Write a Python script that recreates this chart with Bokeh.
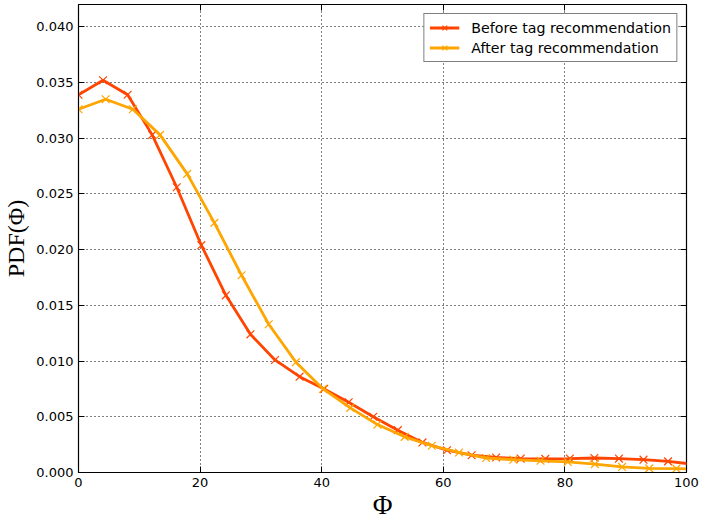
from bokeh.plotting import figure
from bokeh.models import Range1d, LinearAxis, FixedTicker, PrintfTickFormatter, Legend, LegendItem
from bokeh.embed import file_html
from bokeh.resources import INLINE

# Data
before_x = [0, 4.04, 8.08, 12.12, 16.16, 20.2, 24.24, 28.28, 32.32, 36.36, 40.4, 44.44,
            48.48, 52.52, 56.57, 60.61, 64.65, 68.69, 72.73, 76.77, 80.81, 84.85, 88.89,
            92.93, 96.97, 101.01]
before_y = [0.0339, 0.0352, 0.0339, 0.0303, 0.0256, 0.0204, 0.0159, 0.0124, 0.0101, 0.0086,
            0.0075, 0.0063, 0.0050, 0.0038, 0.0027, 0.0020, 0.00155, 0.00135, 0.00125, 0.00122,
            0.00125, 0.0013, 0.00125, 0.00115, 0.0010, 0.00075]
after_x = [0, 4.47, 8.94, 13.41, 17.88, 22.35, 26.82, 31.29, 35.76, 40.23, 44.7, 49.17,
           53.64, 58.11, 62.58, 67.05, 71.52, 75.99, 80.46, 84.93, 89.4, 93.87, 98.34, 102.81]
after_y = [0.0326, 0.0335, 0.0326, 0.0303, 0.0268, 0.0224, 0.0177, 0.0133, 0.0099, 0.0075,
           0.0058, 0.0043, 0.0032, 0.0024, 0.0018, 0.0013, 0.00115, 0.00105, 0.00095, 0.00075,
           0.0005, 0.00037, 0.00035, 0.0003]
x_ticks = [0, 20, 40, 60, 80, 100]
y_ticks = [0.000, 0.005, 0.010, 0.015, 0.020, 0.025, 0.030, 0.035, 0.040]
series_labels = ["Before tag recommendation", "After tag recommendation"]
colors = ["#FF4500", "#FFA500"]

p = figure(width=699, height=522, output_backend="svg", toolbar_location=None,
           x_range=Range1d(0, 100), y_range=Range1d(0, 0.042),
           min_border_left=73, min_border_right=13, min_border_top=4, min_border_bottom=36)
p.outline_line_color = "black"
p.outline_line_width = 1.2
p.background_fill_color = "white"
p.border_fill_color = "white"

for ax in (p.xaxis[0], p.yaxis[0]):
    ax.major_tick_in = 6
    ax.major_tick_out = 0
    ax.minor_tick_in = 0
    ax.minor_tick_out = 0
    ax.axis_line_color = "black"
    ax.major_tick_line_color = "black"
    ax.major_label_text_font = "DejaVu Sans"
    ax.major_label_text_font_size = "13px"
    ax.major_label_text_color = "black"
    ax.axis_label_text_font = "Liberation Serif"
    ax.axis_label_text_font_style = "normal"
    ax.axis_label_text_color = "black"

p.xaxis[0].ticker = FixedTicker(ticks=x_ticks)
p.yaxis[0].ticker = FixedTicker(ticks=y_ticks)
p.yaxis[0].formatter = PrintfTickFormatter(format="%.3f")
p.xaxis[0].axis_label = "Φ"
p.xaxis[0].axis_label_text_font_size = "27px"
p.xaxis[0].axis_label_standoff = 0
p.yaxis[0].axis_label = "PDF(Φ)"
p.yaxis[0].axis_label_text_font_size = "24px"
p.yaxis[0].axis_label_standoff = 4
p.xaxis[0].major_label_standoff = 5
p.yaxis[0].major_label_standoff = 5

# mirrored ticks on top and right
top = LinearAxis(ticker=FixedTicker(ticks=x_ticks), major_label_text_font_size="0px",
                 major_label_standoff=0, major_tick_in=6, major_tick_out=0,
                 minor_tick_in=0, minor_tick_out=0, axis_line_color=None)
right = LinearAxis(ticker=FixedTicker(ticks=y_ticks), major_label_text_font_size="0px",
                   major_label_standoff=0, major_tick_in=6, major_tick_out=0,
                   minor_tick_in=0, minor_tick_out=0, axis_line_color=None)
p.add_layout(top, "above")
p.add_layout(right, "right")

p.xgrid.ticker = FixedTicker(ticks=x_ticks)
p.ygrid.ticker = FixedTicker(ticks=y_ticks)
for g in (p.xgrid[0], p.ygrid[0]):
    g.grid_line_color = "black"
    g.grid_line_dash = "1 3"
    g.grid_line_width = 1

items = []
for xs, ys, c, lab in zip([before_x, after_x], [before_y, after_y], colors, series_labels):
    l = p.line(xs, ys, line_color=c, line_width=2.8)
    s = p.scatter(xs, ys, marker="x", size=11, line_color=c, line_width=1.2)
    items.append(LegendItem(label=lab, renderers=[l, s]))

legend = Legend(items=items, location="top_right")
legend.label_text_font = "DejaVu Sans"
legend.label_text_font_size = "14.2px"
legend.label_text_color = "black"
legend.border_line_color = "black"
legend.border_line_width = 1
legend.glyph_width = 30
legend.glyph_height = 17
legend.spacing = 3
legend.padding = 5
legend.margin = 9
legend.label_standoff = 12
legend.background_fill_alpha = 1
p.add_layout(legend, "center")

open("out.html", "w").write(file_html(p, INLINE))
